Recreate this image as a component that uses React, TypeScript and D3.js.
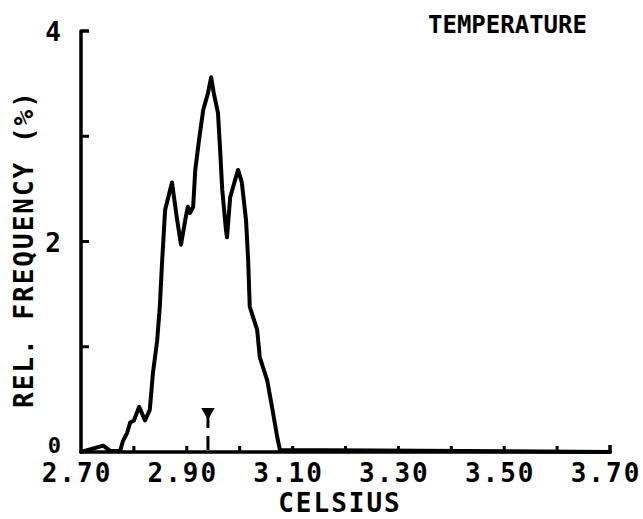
import React, { useEffect, useRef } from "react";
import * as d3 from "d3";

// temperature (celsius) sampled along the traced curve
const temps = [
  2.7, 2.742, 2.755, 2.774, 2.779, 2.787, 2.793, 2.8, 2.81, 2.821, 2.83, 2.836,
  2.844, 2.849, 2.853, 2.859, 2.872, 2.881, 2.889, 2.898, 2.902, 2.906, 2.912,
  2.916, 2.923, 2.931, 2.94, 2.946, 2.951, 2.959, 2.963, 2.967, 2.974, 2.976,
  2.982, 2.991, 2.997, 3.004, 3.012, 3.016, 3.019, 3.033, 3.038, 3.052, 3.061,
  3.071, 3.076, 3.7,
];
// relative frequency (%)
const freqs = [
  0, 0.06, 0.01, 0.01, 0.1, 0.18, 0.28, 0.3, 0.43, 0.3, 0.4, 0.75, 1.06, 1.38,
  1.78, 2.3, 2.56, 2.23, 1.97, 2.23, 2.33, 2.27, 2.33, 2.68, 2.96, 3.25, 3.41,
  3.56, 3.41, 3.22, 2.87, 2.49, 2.11, 2.04, 2.42, 2.58, 2.68, 2.56, 2.2, 1.82,
  1.38, 1.16, 0.9, 0.68, 0.43, 0.14, 0.02, 0,
];

const xTickValues = [2.7, 2.8, 2.9, 3.0, 3.1, 3.2, 3.3, 3.4, 3.5, 3.6, 3.7];
const xLabelValues = [2.7, 2.9, 3.1, 3.3, 3.5, 3.7];
const yTickValues = [1, 2, 3];
const yLabelValues = [0, 2, 4];
const meanMarker = 2.94;

const W = 643;
const H = 519;
const FONT = "'DejaVu Sans Mono', monospace";

export default function App() {
  const svgRef = useRef<SVGSVGElement | null>(null);

  useEffect(() => {
    if (!svgRef.current) return;
    const svg = d3.select(svgRef.current);
    svg.selectAll("*").remove();

    const x = d3.scaleLinear().domain([2.7, 3.7]).range([81, 610]);
    const y = d3.scaleLinear().domain([0, 4]).range([452, 31]);

    const ink = "#000";

    // axes
    svg
      .append("path")
      .attr("d", `M${x(2.7) + 8},${y(4)}H${x(2.7)}V${y(0)}H${x(3.7)}V${y(0) - 7}`)
      .attr("fill", "none")
      .attr("stroke", ink)
      .attr("stroke-width", 3.5)
      .attr("stroke-linejoin", "round");

    svg
      .append("g")
      .selectAll("line")
      .data(yTickValues)
      .join("line")
      .attr("x1", x(2.7))
      .attr("x2", x(2.7) + 8)
      .attr("y1", (d) => y(d))
      .attr("y2", (d) => y(d))
      .attr("stroke", ink)
      .attr("stroke-width", 3);

    svg
      .append("g")
      .selectAll("line")
      .data(xTickValues.slice(1, -1))
      .join("line")
      .attr("x1", (d) => x(d))
      .attr("x2", (d) => x(d))
      .attr("y1", y(0))
      .attr("y2", y(0) - 6)
      .attr("stroke", ink)
      .attr("stroke-width", 3);

    // tick labels
    svg
      .append("g")
      .selectAll("text")
      .data(xLabelValues)
      .join("text")
      .attr("x", (d) => x(d) - 4)
      .attr("y", 482)
      .attr("text-anchor", "middle")
      .attr("font-family", FONT)
      .attr("font-weight", "bold")
      .attr("font-size", 26)
      .attr("letter-spacing", 2)
      .text((d) => d.toFixed(2));

    svg
      .append("g")
      .selectAll("text")
      .data(yLabelValues)
      .join("text")
      .attr("x", 61)
      .attr("y", (d) => y(d) + (d === 0 ? 1 : 10))
      .attr("text-anchor", "end")
      .attr("font-family", FONT)
      .attr("font-weight", "bold")
      .attr("font-size", (d) => (d === 0 ? 22 : 26))
      .text((d) => String(d));

    // axis titles
    svg
      .append("text")
      .attr("x", 340)
      .attr("y", 512)
      .attr("text-anchor", "middle")
      .attr("font-family", FONT)
      .attr("font-weight", "bold")
      .attr("font-size", 26)
      .attr("letter-spacing", 2)
      .text("CELSIUS");

    svg
      .append("text")
      .attr("transform", "translate(33,249) rotate(-90)")
      .attr("text-anchor", "middle")
      .attr("font-family", FONT)
      .attr("font-weight", "bold")
      .attr("font-size", 26)
      .attr("letter-spacing", 2)
      .text("REL. FREQUENCY (%)");

    svg
      .append("text")
      .attr("x", 428)
      .attr("y", 33)
      .attr("font-family", FONT)
      .attr("font-weight", "bold")
      .attr("font-size", 24)
      .text("TEMPERATURE");

    // curve
    const pts = temps.map((t, i) => [t, freqs[i]] as [number, number]);
    const line = d3
      .line<[number, number]>()
      .x((d) => x(d[0]))
      .y((d) => y(d[1]));
    svg
      .append("path")
      .datum(pts)
      .attr("d", line)
      .attr("fill", "none")
      .attr("stroke", ink)
      .attr("stroke-width", 4)
      .attr("stroke-linejoin", "round")
      .attr("stroke-linecap", "round");

    // mean marker
    const mx = x(meanMarker);
    svg
      .append("path")
      .attr("d", `M${mx - 5},${y(0) - 43}L${mx + 5},${y(0) - 43}L${mx + 1},${y(0) - 36}L${mx - 1},${y(0) - 36}Z`)
      .attr("fill", ink)
      .attr("stroke", ink)
      .attr("stroke-width", 2);
    svg
      .append("line")
      .attr("x1", mx)
      .attr("x2", mx)
      .attr("y1", y(0) - 38)
      .attr("y2", y(0))
      .attr("stroke", ink)
      .attr("stroke-width", 3)
      .attr("stroke-dasharray", "14,8");
  }, []);

  return (
    <svg
      ref={svgRef}
      width={W}
      height={H}
      style={{ position: "absolute", left: 0, top: 0, background: "#fff" }}
    />
  );
}
